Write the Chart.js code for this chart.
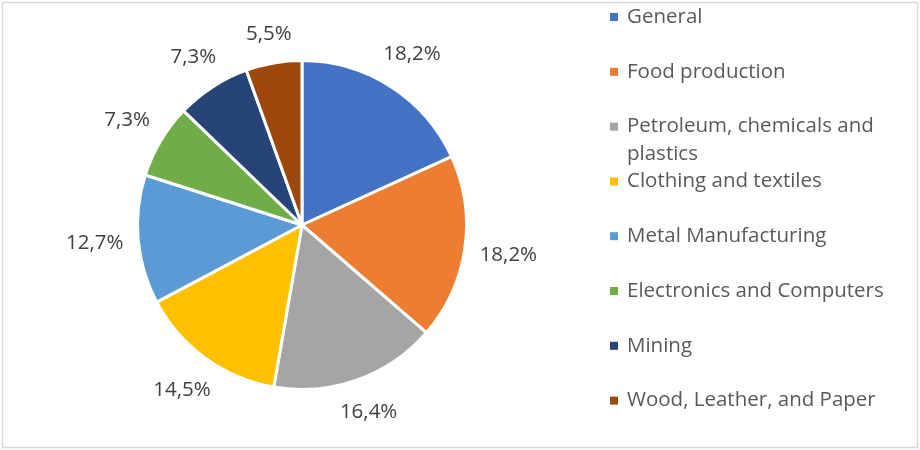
<!DOCTYPE html>
<html>
<head>
<meta charset="utf-8">
<script src="https://cdn.jsdelivr.net/npm/chart.js@4.4.1/dist/chart.umd.min.js"></script>
<style>
  html, body { margin: 0; padding: 0; background: #fff; }
  #wrap { width: 920px; height: 450px; }
</style>
</head>
<body>
<div id="wrap"><canvas id="sectorChart"></canvas></div>
<script>
const categories = [
  "General",
  "Food production",
  "Petroleum, chemicals and plastics",
  "Clothing and textiles",
  "Metal Manufacturing",
  "Electronics and Computers",
  "Mining",
  "Wood, Leather, and Paper",
];
const shares = [18.2, 18.2, 16.4, 14.5, 12.7, 7.3, 7.3, 5.5];
const colors = ["#4472C4", "#ED7D31", "#A5A5A5", "#FFC000", "#5B9BD5", "#70AD47", "#264478", "#9E480E"];

const FONT = '20.5px "Open Sans", "Liberation Sans", sans-serif';

// percentage labels outside each slice, plus the side legend and frame
const outsideLabels = {
  id: "outsideLabels",
  afterDraw(chart) {
    const ctx = chart.ctx;
    const meta = chart.getDatasetMeta(0);
    ctx.save();
    ctx.font = FONT;
    ctx.fillStyle = "#404040";
    ctx.textAlign = "center";
    ctx.textBaseline = "middle";
    meta.data.forEach((arc, i) => {
      const mid = (arc.startAngle + arc.endAngle) / 2;
      const text = shares[i].toFixed(1).replace(".", ",") + "%";
      const w = ctx.measureText(text).width;
      const cos = Math.cos(mid), sin = Math.sin(mid);
      const dist = arc.outerRadius + 14 + Math.abs(cos) * w / 2 + Math.abs(sin) * 11;
      ctx.fillText(text, arc.x + cos * dist, arc.y + sin * dist);
    });

    // legend
    ctx.textAlign = "left";
    const maxW = 275;
    categories.forEach((name, i) => {
      const y = 17 + i * 54.8;
      ctx.fillStyle = colors[i];
      ctx.fillRect(610, y - 4, 8, 8);
      ctx.fillStyle = "#595959";
      // wrap long names onto a second line
      const words = name.split(" ");
      let line = "", lines = [];
      words.forEach((wd) => {
        const test = line ? line + " " + wd : wd;
        if (ctx.measureText(test).width > maxW && line) {
          lines.push(line);
          line = wd;
        } else {
          line = test;
        }
      });
      lines.push(line);
      lines.forEach((l, k) => ctx.fillText(l, 627, y + k * 28));
    });

    // outer frame
    ctx.strokeStyle = "#d9d9d9";
    ctx.lineWidth = 1.5;
    ctx.strokeRect(2.5, 2.5, 915, 445);
    ctx.restore();
  },
};

new Chart(document.getElementById("sectorChart"), {
  type: "pie",
  data: {
    labels: categories,
    datasets: [
      {
        data: shares,
        backgroundColor: colors,
        borderColor: "#ffffff",
        borderWidth: 3,
      },
    ],
  },
  options: {
    responsive: true,
    maintainAspectRatio: false,
    animation: false,
    layout: {
      padding: { left: 136, right: 452, top: 59, bottom: 59 },
    },
    plugins: {
      legend: { display: false },
      tooltip: { enabled: false },
    },
  },
  plugins: [outsideLabels],
});
</script>
</body>
</html>
